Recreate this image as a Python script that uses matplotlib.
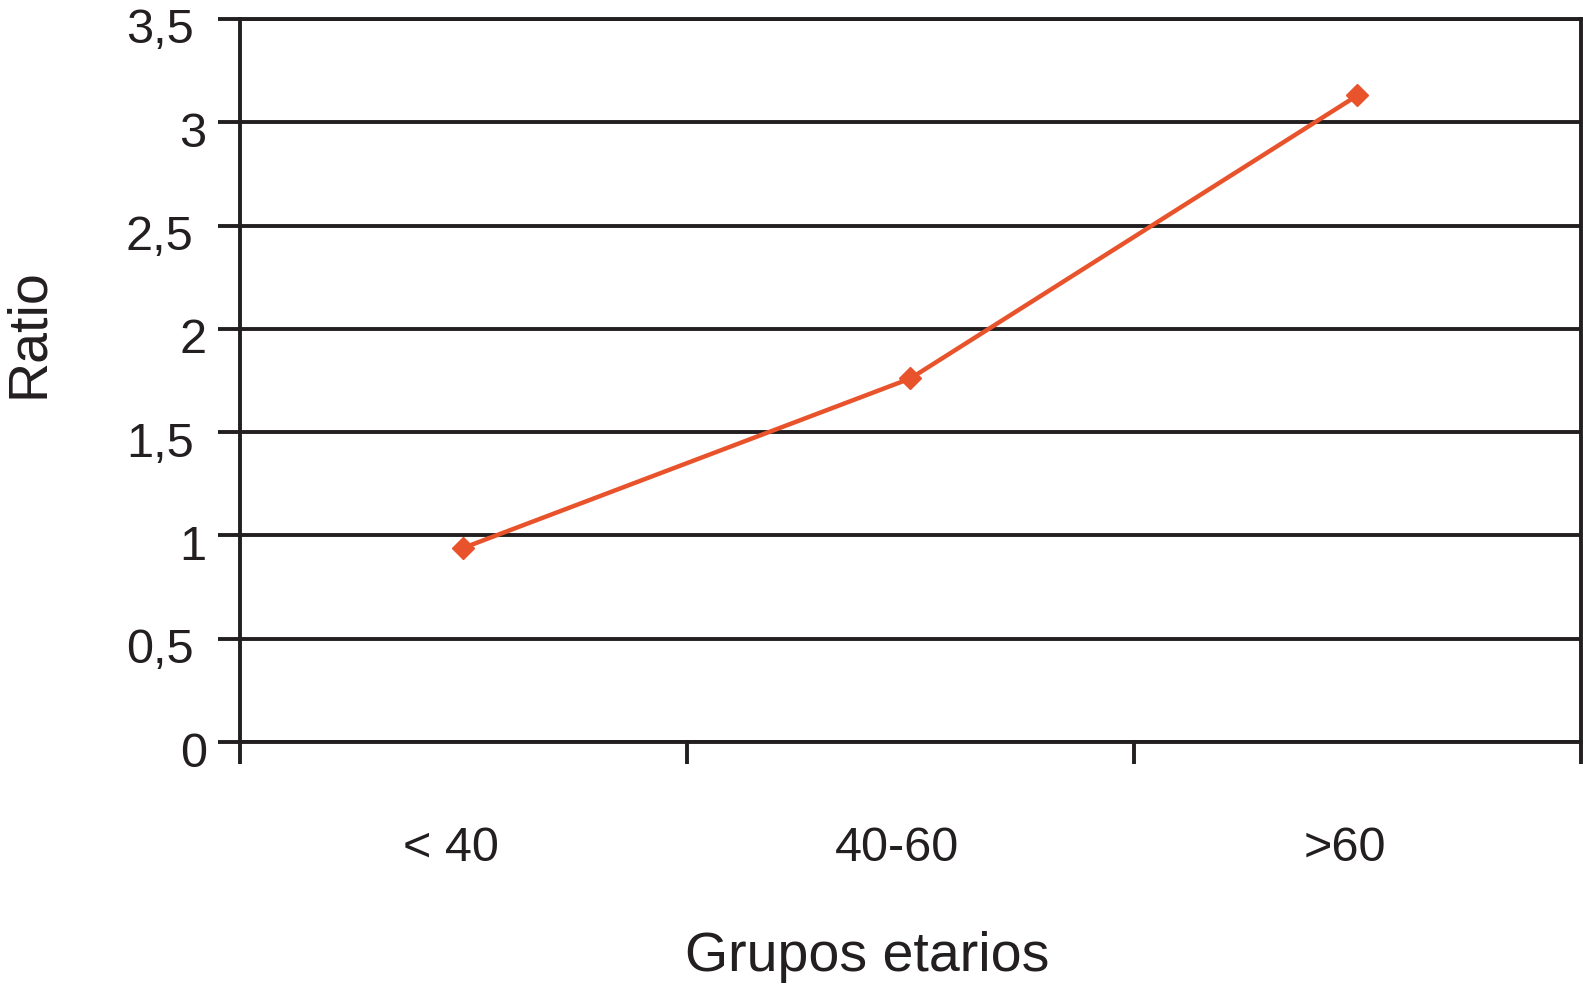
import matplotlib
matplotlib.use("Agg")
import matplotlib.pyplot as plt
from matplotlib.transforms import ScaledTranslation

# ── Data ──────────────────────────────────────────────────────────────────────
groups = ["< 40", "40-60", ">60"]
ratio = [0.94, 1.76, 3.13]
y_ticks = [0, 0.5, 1, 1.5, 2, 2.5, 3, 3.5]
y_labels = ["0", "0,5", "1", "1,5", "2", "2,5", "3", "3,5"]

INK = "#231F20"
LINE = "#E9532B"

plt.rcParams["font.family"] = ["Liberation Sans", "DejaVu Sans"]

fig = plt.figure(figsize=(15.83, 10.03), dpi=100)
ax = fig.add_axes([0.1516, 0.2592, 0.9987 - 0.1516, 0.9801 - 0.2592])

x = [i + 0.5 for i in range(len(groups))]
ax.plot(x, ratio, color=LINE, lw=3.2, marker="D", ms=11, zorder=3, clip_on=False)

# ── Axes ──────────────────────────────────────────────────────────────────────
ax.set_xlim(0, len(groups))
ax.set_ylim(0, 3.5)
ax.set_yticks(y_ticks)
ax.set_yticklabels(y_labels)
ax.yaxis.grid(True, color=INK, lw=2.8)
ax.set_axisbelow(True)

ax.set_xticks(range(len(groups) + 1))
ax.set_xticklabels([])
ax.set_xticks(x, minor=True)
ax.set_xticklabels(groups, minor=True)
ax.tick_params(axis="x", which="major", direction="out", length=16, width=2.8, color=INK)
ax.tick_params(axis="x", which="minor", length=0, pad=60, labelsize=35, labelcolor=INK)
ax.tick_params(axis="y", direction="out", length=16, width=2.8, color=INK,
               pad=8, labelsize=35, labelcolor=INK)

# category labels sit a little left of the slot centre in the original
shift = ScaledTranslation(-0.13, 0, fig.dpi_scale_trans)
for lab in ax.get_xticklabels(minor=True):
    lab.set_transform(lab.get_transform() + shift)

# y labels sit slightly low; decimal ones end a bit further left
for lab in ax.get_yticklabels():
    dx = -0.13 if "," in lab.get_text() else 0.0
    lab.set_transform(lab.get_transform() + ScaledTranslation(dx, -0.06, fig.dpi_scale_trans))

for s in ax.spines.values():
    s.set_color(INK)
    s.set_linewidth(2.8)

ax.set_xlabel("Grupos etarios", fontsize=40, color=INK, va="center")
ax.xaxis.set_label_coords(0.468, -0.296)
ax.set_ylabel("Ratio", fontsize=40, color=INK, va="center")
ax.yaxis.set_label_coords(-0.157, 0.567)

fig.savefig("out.png", dpi=100, facecolor="white")
